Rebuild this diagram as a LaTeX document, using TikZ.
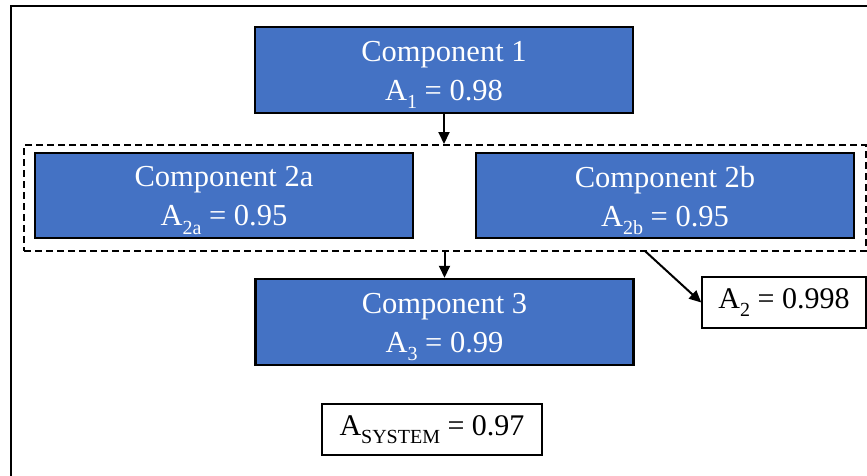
\documentclass[tikz,border=0pt]{standalone}
\usepackage{fontspec}
\setmainfont{Liberation Serif}
\usetikzlibrary{arrows.meta}
\newcommand{\sbs}[1]{\raisebox{-0.28em}{\fontsize{20}{20}\selectfont #1}}
\begin{document}
\begin{tikzpicture}[x=1pt,y=-1pt,
  comp/.style={draw=black,line width=2.5pt,fill={rgb,255:red,68;green,114;blue,196},
    inner sep=0pt,minimum width=378pt,minimum height=86pt},
  ctext/.style={text=white,align=center,inner sep=0pt,font=\fontsize{30.5}{39}\selectfont},
  valbox/.style={draw=black,line width=1.5pt,fill=white,inner sep=0pt,
    minimum height=51pt,font=\fontsize{30}{36}\selectfont},
  arr/.style={draw=black,line width=2pt,-{Triangle[length=12pt,width=11pt]}}]
\useasboundingbox (0,0) rectangle (867,475);
\begin{scope}
\clip (0,0) rectangle (867,475);
\draw[line width=2pt] (11,6) rectangle (900,520);
\end{scope}
\node[draw=black,line width=2pt,dash pattern=on 7pt off 4pt,inner sep=0pt,
  minimum width=842pt,minimum height=106pt] (grp) at (445,198) {};
\node[comp] (c1) at (444,70) {};
\node[ctext] (t1) at ([yshift=-5pt]c1.center) {Component 1\\A\sbs{1} = 0.98};
\node[comp,minimum height=85pt] (c2a) at (224,195.5) {};
\node[ctext] (t2a) at ([yshift=-5pt]c2a.center) {Component 2a\\A\sbs{2a} = 0.95};
\node[comp,minimum height=85pt] (c2b) at (665,195.5) {};
\node[ctext] (t2b) at ([yshift=-5pt]c2b.center) {Component 2b\\A\sbs{2b} = 0.95};
\node[comp] (c3) at (444.5,322) {};
\node[ctext] (t3) at ([yshift=-5pt]c3.center) {Component 3\\A\sbs{3} = 0.99};
\node[valbox,minimum width=164pt] (a2) at (784,302.5) {A\sbs{2} = 0.998};
\node[valbox,minimum width=220pt] (asys) at (432,429.5) {A\sbs{SYSTEM} = 0.97};
\coordinate (g2) at (645,251);
\draw[arr] (c1.south) -- (c1.south |- grp.north);
\draw[arr] (c3.north |- grp.south) -- (c3.north);
\draw[arr] (g2) -- (a2.west);
\end{tikzpicture}
\end{document}
